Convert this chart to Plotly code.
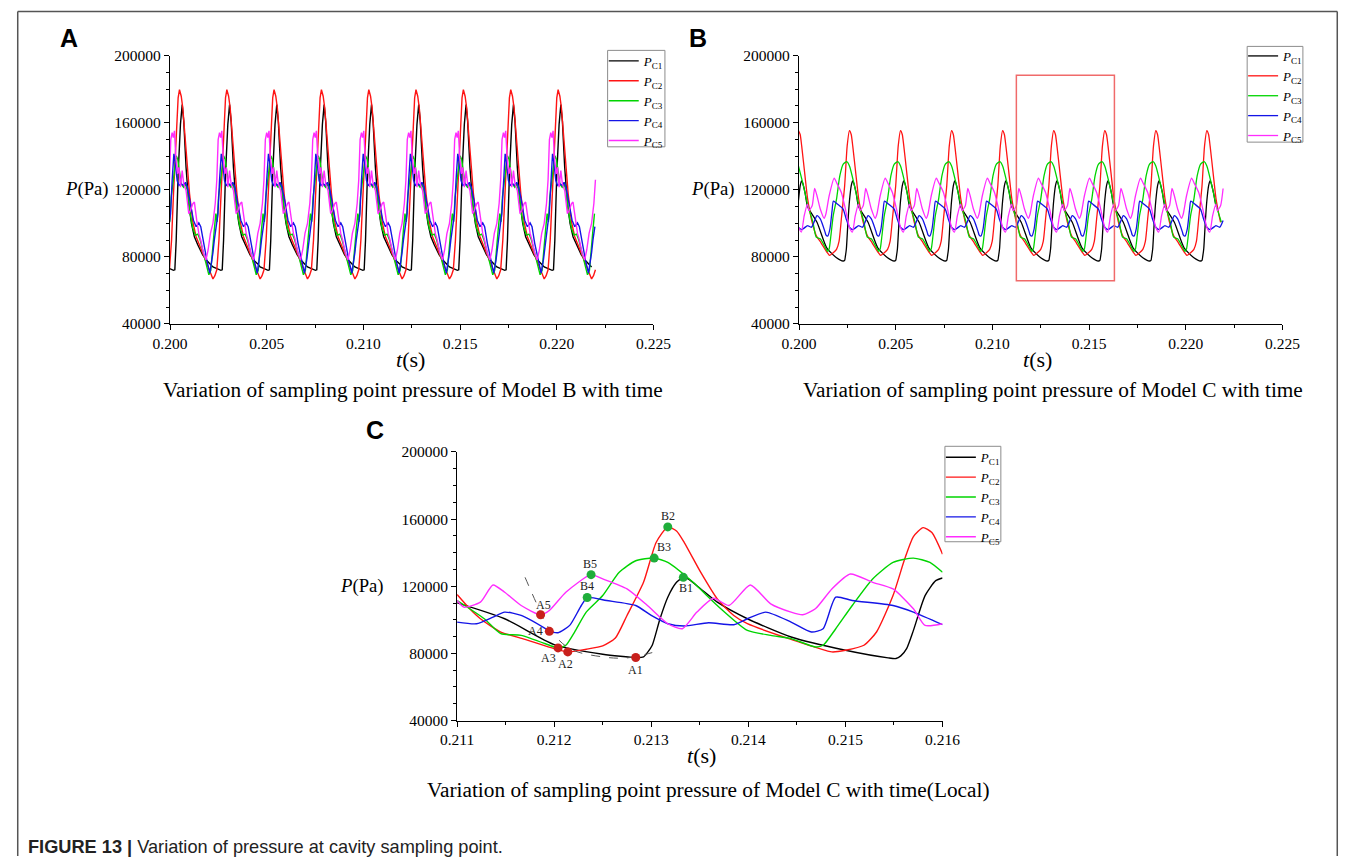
import numpy as np
import plotly.graph_objects as go

W, H = 1356, 864

series_names = ["<i>P</i><sub>C1</sub>", "<i>P</i><sub>C2</sub>", "<i>P</i><sub>C3</sub>",
                "<i>P</i><sub>C4</sub>", "<i>P</i><sub>C5</sub>"]
series_colors = ["#000000", "#ff1414", "#00d400", "#1414e6", "#ff2cff"]

# ---------------- Panel A (Model B): one cycle, offset (s) from the red peak ----------------
A_off_C1 = [-0.00072, -0.00031, -0.00024, -0.00017, -0.00007, 0.00005, 0.00014, 0.00022, 0.00034,
            0.00048, 0.00062, 0.00077, 0.00095, 0.00120, 0.00146, 0.00160]
A_val_C1 = [74000, 72000, 72300, 90000, 129500, 159000, 170800, 161000, 133400,
            111700, 99900, 92000, 87100, 81200, 77200, 75800]
A_off_C2 = [-0.00072, -0.00062, -0.00052, -0.00041, -0.00031, -0.00017, -0.00007, 0.0, 0.00009,
            0.00017, 0.00034, 0.00052, 0.00069, 0.00086, 0.00103, 0.00120, 0.00137, 0.00155, 0.00166]
A_val_C2 = [66800, 68800, 72300, 90000, 117600, 155100, 174800, 179700, 175800,
            168900, 143300, 117600, 100900, 92000, 87100, 82200, 77200, 72300, 68800]
A_off_C3 = [-0.00072, -0.00065, -0.00057, -0.00050, -0.00043, -0.00034, -0.00026, -0.00017, -0.00009,
            0.0, 0.00009, 0.00021, 0.00031, 0.00041, 0.00055, 0.00069, 0.00082, 0.00095, 0.00107,
            0.00124, 0.00141, 0.00152, 0.00162, 0.00168]
A_val_C3 = [88000, 96000, 105800, 100900, 115700, 123500, 133400, 140300, 138300,
            129500, 123500, 121600, 123500, 119600, 105800, 97000, 93000, 93600, 90000,
            82200, 74300, 69300, 72000, 82200]
A_off_C4 = [-0.00072, -0.00065, -0.00055, -0.00046, -0.00038, -0.00029, -0.00021, -0.00012, -0.00003,
            0.00009, 0.00021, 0.00031, 0.00041, 0.00055, 0.00072, 0.00086, 0.00100, 0.00110,
            0.00124, 0.00141, 0.00157, 0.00169]
A_val_C4 = [82500, 90000, 98000, 105800, 125500, 141500, 135400, 125500, 122600,
            123500, 122600, 124500, 121600, 113700, 101900, 98000, 100300, 98000,
            88100, 78200, 70300, 78200]
A_off_C5 = [-0.00072, -0.00060, -0.00052, -0.00045, -0.00038, -0.00032, -0.00026, -0.00019, -0.00010,
            -0.00003, 0.00005, 0.00014, 0.00022, 0.00034, 0.00048, 0.00057, 0.00069, 0.00077, 0.00089,
            0.00100, 0.00110, 0.00124, 0.00137, 0.00148, 0.00160]
A_val_C5 = [100000, 112000, 126000, 150000, 154100, 151100, 155200, 139300, 129500,
            133400, 121600, 131400, 123500, 119600, 105800, 107800, 111700, 112700, 101900,
            94000, 90000, 82200, 78200, 84100, 94000]
A_red_peaks = [0.19804, 0.20049, 0.20294, 0.20538, 0.20783, 0.21028, 0.21272, 0.21517,
               0.21762, 0.22007, 0.22252]

# ---------------- Panel C (Model C, local window) readings ----------------
C_t_C1 = [0.21100, 0.21149, 0.21200, 0.21250, 0.21284, 0.21292, 0.21296, 0.21301, 0.21309,
          0.21317, 0.21326, 0.21333, 0.21338, 0.21351, 0.21368, 0.21399, 0.21444, 0.21500,
          0.21544, 0.21552, 0.21557, 0.21563, 0.21570, 0.21582, 0.21593, 0.21600]
C_p_C1 = [110100, 100650, 85240, 79510, 77540, 77930, 80500, 84850, 100650,
          113480, 122370, 125330, 124350, 118420, 110520, 100650, 89780, 81880,
          77340, 76950, 78530, 82870, 93730, 114470, 123360, 124940]
C_t_C2 = [0.21100, 0.21113, 0.21124, 0.21145, 0.21170, 0.21200, 0.21214, 0.21233, 0.21250,
          0.21263, 0.21275, 0.21292, 0.21305, 0.21317, 0.21326, 0.21334, 0.21351, 0.21368,
          0.21385, 0.21399, 0.21444, 0.21486, 0.21500, 0.21519, 0.21532, 0.21549, 0.21561,
          0.21570, 0.21580, 0.21589, 0.21600]
C_p_C2 = [115060, 106570, 100650, 92750, 88400, 82870, 80900, 82480, 84450,
          89190, 102620, 122370, 146070, 155350, 152980, 146070, 128300, 112500,
          102620, 97680, 88400, 80900, 81880, 84850, 92750, 114470, 136200,
          149630, 154960, 152000, 139160]
C_t_C3 = [0.21100, 0.21128, 0.21145, 0.21166, 0.21200, 0.21204, 0.21212, 0.21221, 0.21233,
          0.21250, 0.21267, 0.21284, 0.21303, 0.21317, 0.21343, 0.21368, 0.21399, 0.21423,
          0.21444, 0.21469, 0.21477, 0.21490, 0.21507, 0.21528, 0.21549, 0.21570, 0.21587, 0.21600]
C_p_C3 = [111510, 100650, 91760, 90770, 83860, 83270, 84850, 92750, 104600,
          114470, 128300, 135210, 136790, 134220, 122370, 108540, 93730, 90770,
          88800, 83860, 84850, 94720, 108540, 124350, 134220, 136790, 134220, 128300]
C_t_C4 = [0.21100, 0.21120, 0.21137, 0.21149, 0.21166, 0.21191, 0.21195, 0.21204, 0.21216,
          0.21227, 0.21234, 0.21254, 0.21284, 0.21300, 0.21317, 0.21334, 0.21359, 0.21385,
          0.21399, 0.21418, 0.21444, 0.21465, 0.21477, 0.21490, 0.21507, 0.21549, 0.21570, 0.21600]
C_p_C4 = [98670, 97680, 101630, 104600, 102620, 94720, 93140, 92350, 96700,
          107560, 113290, 111510, 108540, 102620, 97680, 96300, 98280, 97090,
          100650, 104600, 98670, 92750, 94720, 113480, 111510, 108540, 104600, 97090]
C_t_C5 = [0.21100, 0.21107, 0.21124, 0.21137, 0.21149, 0.21166, 0.21186, 0.21195, 0.21212,
          0.21238, 0.21250, 0.21275, 0.21296, 0.21317, 0.21332, 0.21347, 0.21364, 0.21380,
          0.21402, 0.21423, 0.21444, 0.21456, 0.21469, 0.21486, 0.21505, 0.21528, 0.21549,
          0.21570, 0.21582, 0.21600]
C_p_C5 = [111510, 107560, 110520, 120790, 116450, 108540, 103020, 105580, 116450,
          126910, 124350, 118420, 108540, 97680, 94720, 104600, 112890, 108540,
          120790, 109530, 104600, 103020, 106570, 118420, 127310, 122370, 118420,
          106570, 96700, 97680]

# Dashed guide curve through the A points (panel C)
C_guide_t = [0.21170, 0.21186, 0.21195, 0.21216, 0.21250, 0.21275, 0.21301]
C_guide_p = [125330, 104600, 94720, 82870, 77930, 77340, 80500]

# Marked points (panel C)
A_pts_label = ["A1", "A2", "A3", "A4", "A5"]
A_pts_t = [0.21284, 0.21214, 0.21204, 0.21195, 0.21186]
A_pts_p = [77540, 80900, 83270, 93140, 103020]
B_pts_label = ["B1", "B2", "B3", "B4", "B5"]
B_pts_t = [0.21333, 0.21317, 0.21303, 0.21234, 0.21238]
B_pts_p = [125330, 155350, 136790, 113290, 126910]

# Panel B: red-peak times of each cycle (the local window repeats with them)
B_red_peaks = [0.19733, 0.19997, 0.20261, 0.20525, 0.20789, 0.21053, 0.21317,
               0.21581, 0.21845, 0.22109, 0.22373]
B_ref_peak = 0.21317
B_period = 0.00264
B_zoom_window = [0.21124, 0.21631, 65750, 188300]

T_START, T_END = 0.200, 0.2220


def clip(ts, ps):
    ts = np.asarray(ts); ps = np.asarray(ps)
    order = np.argsort(ts)
    ts, ps = ts[order], ps[order]
    keep = ts <= T_END
    first = np.searchsorted(ts, T_START)
    idx = np.arange(len(ts))
    keep &= idx >= max(first - 1, 0)
    return ts[keep], ps[keep]


def tile_A(off, val):
    ts, ps = [], []
    for pk in A_red_peaks:
        ts += [pk + o for o in off]
        ps += list(val)
    return clip(ts, ps)


def tile_B(ct, cp):
    ts, ps = [], []
    one = [(t - B_ref_peak, p) for t, p in zip(ct, cp) if t < C_t_C1[0] + B_period]
    for pk in B_red_peaks:
        ts += [pk + o for o, _ in one]
        ps += [p for _, p in one]
    return clip(ts, ps)


A_sets = [(A_off_C1, A_val_C1), (A_off_C2, A_val_C2), (A_off_C3, A_val_C3),
          (A_off_C4, A_val_C4), (A_off_C5, A_val_C5)]
C_sets = [(C_t_C1, C_p_C1), (C_t_C2, C_p_C2), (C_t_C3, C_p_C3),
          (C_t_C4, C_p_C4), (C_t_C5, C_p_C5)]

fig = go.Figure()
for i in range(5):
    tx, py = tile_A(*A_sets[i])
    fig.add_trace(go.Scatter(x=tx, y=py, mode="lines", name=series_names[i],
                             line=dict(color=series_colors[i], width=1.4),
                             xaxis="x", yaxis="y", legend="legend"))
for i in range(5):
    tx, py = tile_B(*C_sets[i])
    fig.add_trace(go.Scatter(x=tx, y=py, mode="lines", name=series_names[i],
                             line=dict(color=series_colors[i], width=1.3, shape="spline",
                                       smoothing=0.6),
                             xaxis="x2", yaxis="y2", legend="legend2"))
for i in range(5):
    fig.add_trace(go.Scatter(x=C_sets[i][0], y=C_sets[i][1], mode="lines", name=series_names[i],
                             line=dict(color=series_colors[i], width=1.4, shape="spline",
                                       smoothing=0.6),
                             xaxis="x3", yaxis="y3", legend="legend3"))

fig.add_trace(go.Scatter(x=C_guide_t, y=C_guide_p, mode="lines", showlegend=False,
                         line=dict(color="#555555", width=1, dash="dash", shape="spline"),
                         xaxis="x3", yaxis="y3"))
fig.add_trace(go.Scatter(x=A_pts_t, y=A_pts_p, mode="markers", showlegend=False,
                         marker=dict(color="#c8201c", size=9), xaxis="x3", yaxis="y3"))
fig.add_trace(go.Scatter(x=B_pts_t, y=B_pts_p, mode="markers", showlegend=False,
                         marker=dict(color="#1fae3a", size=9), xaxis="x3", yaxis="y3"))

SERIF = "Liberation Serif, Times New Roman, serif"
SANS = "Liberation Sans, Arial, sans-serif"

# page-to-photo correction (the photographed page comes out slightly scaled and shifted)
OX, KX, OY, KY = 13.5, 0.9773, 7.5, 0.983


def px(x):
    return min(max((x - OX) / KX, 0.75), W - 0.75) / W


def py_(y):
    return 1 - min(max((y - OY) / KY, 0.75), H - 0.75) / H


def axis_style(dom, rng, dtick, minor_dtick, fmt, anchor):
    return dict(domain=dom, range=rng, anchor=anchor, showline=True, linecolor="black",
                linewidth=1.2, ticks="outside", ticklen=5, tickwidth=1.2, tickcolor="black",
                dtick=dtick, tick0=rng[0], tickformat=fmt, showgrid=False, zeroline=False,
                tickfont=dict(family=SERIF, size=15.5, color="black"),
                minor=dict(ticks="outside", ticklen=3, tickwidth=1, tickcolor="black",
                           dtick=minor_dtick, showgrid=False))


yA = [py_(323.3), py_(54.3)]
yC = [py_(721), py_(451.7)]
fig.update_layout(
    width=W, height=H, margin=dict(l=0, r=0, t=0, b=0),
    paper_bgcolor="white", plot_bgcolor="white", showlegend=True,
    xaxis=axis_style([px(167), px(652)], [0.200, 0.225], 0.005, 0.0025, ".3f", "y"),
    yaxis=axis_style(yA, [40000, 200000], 40000, 10000, "d", "x"),
    xaxis2=axis_style([px(798), px(1283)], [0.200, 0.225], 0.005, 0.0025, ".3f", "y2"),
    yaxis2=axis_style(yA, [40000, 200000], 40000, 10000, "d", "x2"),
    xaxis3=axis_style([px(455), px(942)], [0.211, 0.216], 0.001, 0.0005, ".3f", "y3"),
    yaxis3=axis_style(yC, [40000, 200000], 40000, 10000, "d", "x3"),
)

leg_common = dict(bgcolor="rgba(0,0,0,0)", bordercolor="rgba(0,0,0,0)", borderwidth=0,
                  font=dict(family=SERIF, size=13, color="black"),
                  xanchor="left", yanchor="top", tracegroupgap=0, itemwidth=30)
# legend origin: first line sample starts 5 px right of it, first item centred ~15 px below it
fig.update_layout(
    legend=dict(x=px(607) - 5 / W, y=py_(59.3) + 15 / H, **leg_common),
    legend2=dict(x=px(1248.4) - 5 / W, y=py_(54.3) + 15 / H, **leg_common),
    legend3=dict(x=px(945.2) - 5 / W, y=py_(456.7) + 15 / H, **leg_common),
)

ann = []


def text(x, y, s, size, family=SERIF, xanchor="center", color="black"):
    ann.append(dict(xref="paper", yref="paper", x=px(x), y=py_(y), text=s, showarrow=False,
                    xanchor=xanchor, yanchor="middle",
                    font=dict(family=family, size=size, color=color)))


text(66, 37, "<b>A</b>", 25, SANS)
text(697, 37, "<b>B</b>", 25, SANS)
text(373, 430, "<b>C</b>", 25, SANS)
text(83.5, 188, "<i>P</i>(Pa)", 18.7)
text(712, 188, "<i>P</i>(Pa)", 18.7)
text(360, 586, "<i>P</i>(Pa)", 18.7)
text(408, 359, "<i>t</i>(s)", 22)
text(1037, 359, "<i>t</i>(s)", 22)
text(700, 756, "<i>t</i>(s)", 22)
text(411, 390, "Variation of sampling point pressure of Model B with time", 21.3)
text(1053, 390, "Variation of sampling point pressure of Model C with time", 21.3)
text(707, 791, "Variation of sampling point pressure of Model C with time(Local)", 21.3)
text(23, 848, "<b>FIGURE 13 |</b> Variation of pressure at cavity sampling point.", 18.2,
     SANS, xanchor="left", color="#222222")

A_lab_shift = [(0, -12), (-2, -12), (-10, -10), (-14, 0), (3, 10)]
B_lab_shift = [(3, -11), (0, 11), (10, 11), (0, 12), (-1, 11)]
for lab, t, p, (dx, dy) in zip(A_pts_label, A_pts_t, A_pts_p, A_lab_shift):
    ann.append(dict(xref="x3", yref="y3", x=t, y=p, text=lab, showarrow=False,
                    xshift=dx, yshift=dy, font=dict(family=SERIF, size=12, color="#222")))
for lab, t, p, (dx, dy) in zip(B_pts_label, B_pts_t, B_pts_p, B_lab_shift):
    ann.append(dict(xref="x3", yref="y3", x=t, y=p, text=lab, showarrow=False,
                    xshift=dx, yshift=dy, font=dict(family=SERIF, size=12, color="#222")))
fig.update_layout(annotations=ann)

GRAY = "#555555"
LEGBOX = "#8c8c8c"
shapes = [
    dict(type="line", xref="paper", yref="paper", x0=px(8), x1=px(1353), y0=py_(10), y1=py_(10),
         line=dict(color=GRAY, width=1.5)),
    dict(type="line", xref="paper", yref="paper", x0=px(8), x1=px(8), y0=py_(10), y1=0,
         line=dict(color=GRAY, width=1.5)),
    dict(type="line", xref="paper", yref="paper", x0=px(1353), x1=px(1353), y0=py_(10), y1=0,
         line=dict(color=GRAY, width=1.5)),
    dict(type="rect", xref="x2", yref="y2", x0=B_zoom_window[0], x1=B_zoom_window[1],
         y0=B_zoom_window[2], y1=B_zoom_window[3], line=dict(color="#f06a6a", width=1.5)),
]
for (l, t, r, b) in [(606, 49, 663.5, 145.7), (1247.6, 45, 1303.5, 141), (944.4, 446, 1000.5, 541.7)]:
    shapes.append(dict(type="rect", xref="paper", yref="paper", x0=px(l), x1=px(r),
                       y0=py_(b), y1=py_(t), line=dict(color=LEGBOX, width=1),
                       fillcolor="rgba(0,0,0,0)"))
fig.update_layout(shapes=shapes)

fig.write_html("out.html", config={"displayModeBar": False},
               post_script="document.body.style.margin='0';"
                           "document.documentElement.style.overflow='hidden';"
                           "document.body.style.overflow='hidden';")
